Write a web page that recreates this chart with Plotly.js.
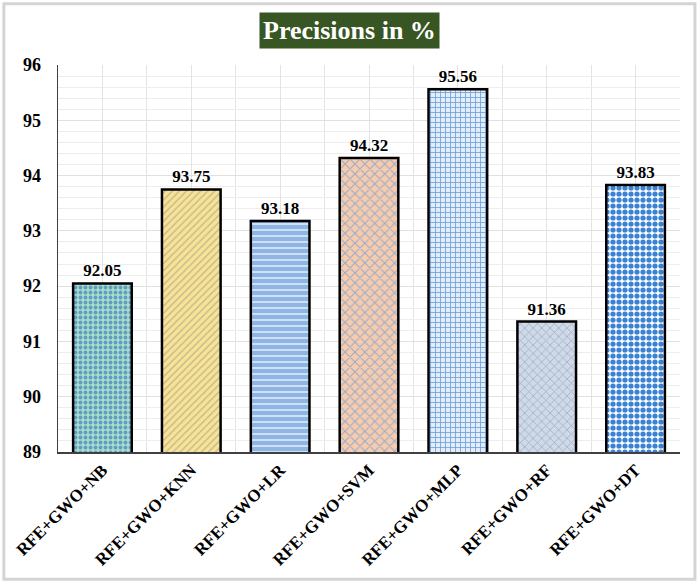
<!DOCTYPE html>
<html>
<head>
<meta charset="utf-8">
<script src="https://cdn.plot.ly/plotly-3.0.1.min.js"></script>
<style>
  html, body { margin: 0; padding: 0; background: #fff; }
  #chart { width: 700px; height: 586px; }
</style>
</head>
<body>
<div id="chart"></div>
<script>
const categories = ["RFE+GWO+NB", "RFE+GWO+KNN", "RFE+GWO+LR", "RFE+GWO+SVM", "RFE+GWO+MLP", "RFE+GWO+RF", "RFE+GWO+DT"];
const precision = [92.05, 93.75, 93.18, 94.32, 95.56, 91.36, 93.83];
const valueLabels = ["92.05", "93.75", "93.18", "94.32", "95.56", "91.36", "93.83"];

const bgColors = ["#a9dcc9", "#f6e396", "#8fb5e4", "#f8cbad", "#e3ecf8", "#d3d9e3", "#ffffff"];
const fgColors = ["#5f9ec4", "#c2b48e", "#e6effa", "#9aaecb", "#6a9fd9", "#8fb2dc", "#3b82d4"];
const shapes = [".", "/", "-", "x", "+", "x", "."];
const sizes = [5, 5, 6, 7, 5, 6, 6];
const solidities = [0.45, 0.25, 0.25, 0.3, 0.3, 0.25, 0.6];

const xIdx = categories.map((c, i) => i);

const serif = "Liberation Serif, Times New Roman, serif";

const traces = categories.map((cat, i) => ({
  type: "bar",
  name: cat,
  x: [xIdx[i]],
  y: [precision[i]],
  width: 0.66,
  text: [valueLabels[i]],
  textposition: "outside",
  cliponaxis: true,
  textfont: { family: serif, size: 17, color: "#000", weight: "bold" },
  hoverinfo: "y",
  marker: {
    color: bgColors[i],
    line: { color: "#000", width: 2.5 },
    pattern: {
      shape: shapes[i],
      fillmode: "overlay",
      fgcolor: fgColors[i],
      fgopacity: 1,
      size: sizes[i],
      solidity: solidities[i]
    }
  }
}));

const layout = {
  width: 700,
  height: 586,
  margin: { l: 58, r: 20, t: 65, b: 134 },
  paper_bgcolor: "#fff",
  plot_bgcolor: "#fff",
  showlegend: false,
  barmode: "overlay",
  font: { family: serif, color: "#000" },
  xaxis: {
    range: [-0.5, 6.5],
    tickmode: "array",
    tickvals: xIdx,
    ticktext: categories,
    tickangle: -45,
    tickfont: { family: serif, size: 17, color: "#000", weight: "bold" },
    showgrid: true,
    gridcolor: "#e3e3e3",
    gridwidth: 1,
    minor: {
      tickmode: "linear",
      tick0: -0.5,
      dtick: 1,
      showgrid: true,
      gridcolor: "#e3e3e3",
      gridwidth: 1,
      ticks: ""
    },
    showline: true,
    linecolor: "#404040",
    linewidth: 1.5,
    ticks: "",
    zeroline: false,
    fixedrange: true
  },
  yaxis: {
    range: [89, 96],
    tickmode: "linear",
    tick0: 89,
    dtick: 1,
    tickfont: { family: serif, size: 18, color: "#000", weight: "bold" },
    ticklabelstandoff: 12,
    showgrid: true,
    gridcolor: "#e0e0e0",
    gridwidth: 1.2,
    minor: {
      tickmode: "linear",
      tick0: 89,
      dtick: 0.2,
      showgrid: true,
      gridcolor: "#ededed",
      gridwidth: 1,
      ticks: ""
    },
    showline: true,
    linecolor: "#404040",
    linewidth: 1.5,
    ticks: "",
    zeroline: false,
    fixedrange: true
  },
  shapes: [
    {
      type: "rect", xref: "paper", yref: "paper",
      x0: -0.087, x1: 1.024, y0: -0.329, y1: 1.158,
      line: { color: "#d4d4d4", width: 3 },
      fillcolor: "rgba(0,0,0,0)",
      layer: "below"
    }
  ],
  annotations: [
    {
      xref: "paper", yref: "paper",
      x: 0.469, y: 1.09,
      xanchor: "center", yanchor: "middle",
      text: "<b>Precisions in %</b>",
      showarrow: false,
      font: { family: serif, size: 26, color: "#fff" },
      bgcolor: "#375623",
      borderpad: 3
    }
  ]
};

Plotly.newPlot("chart", traces, layout, { displayModeBar: false, staticPlot: true });
</script>
</body>
</html>
